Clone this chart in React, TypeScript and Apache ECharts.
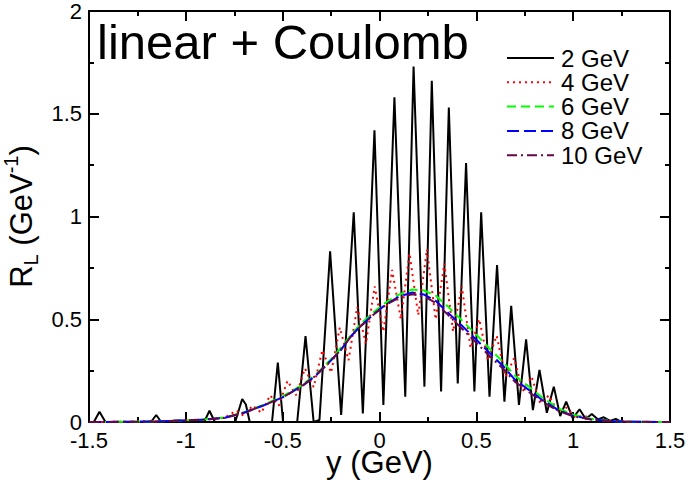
import React, { useEffect, useRef } from "react";
import * as echarts from "echarts";

const seriesNames = ["2 GeV", "4 GeV", "6 GeV", "8 GeV", "10 GeV"];
const xTicks = { min: -1.5, max: 1.5, interval: 0.5 };
const yTicks = { min: 0, max: 2, interval: 0.5 };

const gev2: [number, number][] = [
  [-1.5, 0], [-1.475, 0], [-1.446, 0.05], [-1.415, 0],
  [-1.18, 0], [-1.153, 0.034], [-1.127, 0],
  [-0.905, 0], [-0.878, 0.055], [-0.85, 0],
  [-0.745, 0], [-0.709, 0.112], [-0.69, 0.085], [-0.67, 0],
  [-0.555, 0], [-0.525, 0.289], [-0.498, 0],
  [-0.425, 0], [-0.382, 0.418], [-0.34, 0],
  [-0.31, 0.01], [-0.255, 0.83], [-0.198, 0.034], [-0.133, 1.02],
  [-0.086, 0.042], [-0.026, 1.42], [0.02, 0.083], [0.077, 1.58],
  [0.133, 0.123], [0.176, 1.73], [0.232, 0.172], [0.27, 1.66],
  [0.318, 0.148], [0.358, 1.53], [0.404, 0.188], [0.447, 1.26],
  [0.49, 0.148], [0.525, 1.02], [0.568, 0.123], [0.607, 0.764],
  [0.645, 0.099], [0.68, 0.565], [0.72, 0.083], [0.757, 0.402],
  [0.792, 0.058], [0.826, 0.253], [0.864, 0.045], [0.9, 0.172],
  [0.933, 0.029], [0.964, 0.099], [0.998, 0.018], [1.033, 0.062],
  [1.065, 0.015], [1.096, 0.039], [1.127, 0.013], [1.158, 0.023],
  [1.19, 0.005], [1.22, 0.015], [1.25, 0], [1.5, 0],
];

const gev4: [number, number][] = [
  [-1.5, 0], [-1.3, 0.001], [-1.15, 0.003], [-1.0, 0.008], [-0.9, 0.012],
  [-0.8, 0.02], [-0.74, 0.055], [-0.7, 0.03], [-0.655, 0.08], [-0.61, 0.045],
  [-0.565, 0.13], [-0.52, 0.08], [-0.475, 0.2], [-0.43, 0.13], [-0.385, 0.26],
  [-0.34, 0.17], [-0.295, 0.35], [-0.25, 0.24], [-0.205, 0.46], [-0.16, 0.3],
  [-0.115, 0.56], [-0.07, 0.38], [-0.025, 0.66], [0.02, 0.44], [0.065, 0.74],
  [0.11, 0.5], [0.155, 0.82], [0.2, 0.52], [0.245, 0.84], [0.29, 0.5],
  [0.335, 0.77], [0.38, 0.44], [0.425, 0.66], [0.47, 0.36], [0.515, 0.5],
  [0.56, 0.3], [0.605, 0.42], [0.65, 0.22], [0.695, 0.31], [0.74, 0.15],
  [0.785, 0.22], [0.83, 0.09], [0.875, 0.13], [0.92, 0.05], [0.965, 0.07],
  [1.01, 0.025], [1.06, 0.03], [1.1, 0.012], [1.2, 0.004], [1.3, 0.001], [1.5, 0],
];

const gev6: [number, number][] = [
  [-1.5, 0], [-1.3, 0.001], [-1.15, 0.003], [-1.0, 0.008], [-0.9, 0.013],
  [-0.8, 0.022], [-0.7, 0.047], [-0.6, 0.083], [-0.5, 0.125], [-0.4, 0.18],
  [-0.33, 0.23], [-0.25, 0.305], [-0.2, 0.36], [-0.15, 0.42], [-0.1, 0.475],
  [-0.03, 0.535], [0.03, 0.58], [0.1, 0.62], [0.17, 0.645], [0.23, 0.64],
  [0.29, 0.615], [0.35, 0.565], [0.43, 0.49], [0.5, 0.425], [0.57, 0.355],
  [0.64, 0.29], [0.7, 0.225], [0.78, 0.165], [0.84, 0.12], [0.92, 0.068],
  [1.0, 0.035], [1.1, 0.014], [1.2, 0.005], [1.3, 0.001], [1.5, 0],
];

const gev8: [number, number][] = [
  [-1.5, 0], [-1.3, 0.001], [-1.15, 0.003], [-1.0, 0.008], [-0.9, 0.012],
  [-0.8, 0.02], [-0.7, 0.045], [-0.6, 0.08], [-0.5, 0.12], [-0.4, 0.175],
  [-0.33, 0.225], [-0.25, 0.3], [-0.2, 0.35], [-0.15, 0.415], [-0.1, 0.465],
  [-0.03, 0.525], [0.03, 0.57], [0.1, 0.61], [0.17, 0.63], [0.23, 0.62],
  [0.29, 0.59], [0.35, 0.535], [0.43, 0.465], [0.5, 0.4], [0.57, 0.335],
  [0.64, 0.27], [0.7, 0.205], [0.78, 0.15], [0.84, 0.107], [0.92, 0.06],
  [1.0, 0.03], [1.1, 0.012], [1.2, 0.004], [1.3, 0.001], [1.5, 0],
];

const gev10: [number, number][] = [
  [-1.5, 0], [-1.3, 0.001], [-1.15, 0.003], [-1.0, 0.008], [-0.9, 0.012],
  [-0.8, 0.02], [-0.7, 0.045], [-0.6, 0.08], [-0.5, 0.12], [-0.4, 0.175],
  [-0.33, 0.225], [-0.25, 0.3], [-0.2, 0.35], [-0.15, 0.413], [-0.1, 0.463],
  [-0.03, 0.523], [0.03, 0.568], [0.1, 0.605], [0.17, 0.622], [0.23, 0.61],
  [0.29, 0.58], [0.35, 0.525], [0.43, 0.45], [0.5, 0.385], [0.57, 0.32],
  [0.64, 0.258], [0.7, 0.195], [0.78, 0.14], [0.84, 0.1], [0.92, 0.056],
  [1.0, 0.028], [1.1, 0.011], [1.2, 0.004], [1.3, 0.001], [1.5, 0],
];

const FONT = "Liberation Sans, Arial, Helvetica, sans-serif";

function axisBase(extra: any) {
  return {
    type: "value",
    axisLine: { show: true, onZero: false, lineStyle: { color: "#000", width: 2 } },
    axisTick: { show: true, inside: true, length: 10, lineStyle: { color: "#000", width: 2 } },
    minorTick: { show: true, splitNumber: 2, length: 5, lineStyle: { color: "#000", width: 2 } },
    splitLine: { show: false },
    minorSplitLine: { show: false },
    ...extra,
  };
}

export default function App() {
  const ref = useRef<HTMLDivElement>(null);
  useEffect(() => {
    const chart = echarts.init(ref.current!, null, { renderer: "svg" });
    const labelStyle = { color: "#000", fontSize: 22, lineHeight: 14, fontFamily: FONT };
    chart.setOption({
      animation: false,
      backgroundColor: "#fff",
      textStyle: { fontFamily: FONT },
      grid: { left: 89, right: 19, top: 11, bottom: 63, containLabel: false, outerBoundsMode: "none" },
      xAxis: [
        axisBase({
          ...xTicks,
          position: "bottom",
          axisLabel: { ...labelStyle, margin: 11, showMinLabel: true, showMaxLabel: true },
          name: "y (GeV)",
          nameLocation: "middle",
          nameGap: 28,
          nameMoveOverlap: false,
          nameTextStyle: { color: "#000", fontSize: 31, lineHeight: 24, fontFamily: FONT, verticalAlign: "top" },
        }),
        axisBase({ ...xTicks, position: "top", axisLabel: { show: false } }),
      ],
      yAxis: [
        axisBase({
          ...yTicks,
          position: "left",
          axisLabel: { ...labelStyle, margin: 7 },
          name: "{n|R}{s|L}{n| (GeV}{p|-1}{n|)}",
          nameLocation: "middle",
          nameRotate: 90,
          nameGap: 48,
          nameMoveOverlap: false,
          nameTextStyle: {
            color: "#000",
            fontFamily: FONT,
            rich: {
              n: { fontSize: 31, lineHeight: 40, verticalAlign: "middle", fontFamily: FONT, color: "#000" },
              s: { fontSize: 20, lineHeight: 16, verticalAlign: "bottom", fontFamily: FONT, color: "#000" },
              p: { fontSize: 20, lineHeight: 16, verticalAlign: "top", fontFamily: FONT, color: "#000" },
            },
          },
        }),
        axisBase({ ...yTicks, position: "right", axisLabel: { show: false } }),
      ],
      legend: {
        orient: "vertical",
        left: 501,
        top: 41,
        itemWidth: 47,
        itemHeight: 14,
        itemGap: 0.3,
        selectedMode: false,
        data: seriesNames,
        itemStyle: { opacity: 0, color: "rgba(0,0,0,0)", borderWidth: 0 },
        textStyle: { fontSize: 24, lineHeight: 20, color: "#000", fontFamily: FONT, padding: [0, 0, 0, 2] },
      },
      graphic: [
        {
          type: "text",
          left: 97,
          top: 17,
          style: { text: "linear + Coulomb", fontSize: 49, fontFamily: FONT, fill: "#000" },
        },
      ],
      series: [
        {
          name: seriesNames[0], type: "line", data: gev2, symbol: "none", z: 2,
          lineStyle: { color: "#000", width: 2 }, itemStyle: { color: "#000" },
        },
        {
          name: seriesNames[1], type: "line", data: gev4, symbol: "none", z: 3,
          lineStyle: { color: "#ff0000", width: 2, type: [2, 4] }, itemStyle: { color: "#ff0000" },
        },
        {
          name: seriesNames[2], type: "line", data: gev6, symbol: "none", z: 4,
          lineStyle: { color: "#00ff00", width: 2, type: [9, 5] }, itemStyle: { color: "#00ff00" },
        },
        {
          name: seriesNames[3], type: "line", data: gev8, symbol: "none", z: 5,
          lineStyle: { color: "#0000ff", width: 2, type: [12, 5] }, itemStyle: { color: "#0000ff" },
        },
        {
          name: seriesNames[4], type: "line", data: gev10, symbol: "none", z: 6,
          lineStyle: { color: "#670748", width: 2, type: [10, 4, 2, 4] }, itemStyle: { color: "#670748" },
        },
      ],
    });
    return () => chart.dispose();
  }, []);
  return (
    <div
      ref={ref}
      style={{ position: "fixed", left: 0, top: 0, width: 689, height: 485, background: "#fff" }}
    />
  );
}
